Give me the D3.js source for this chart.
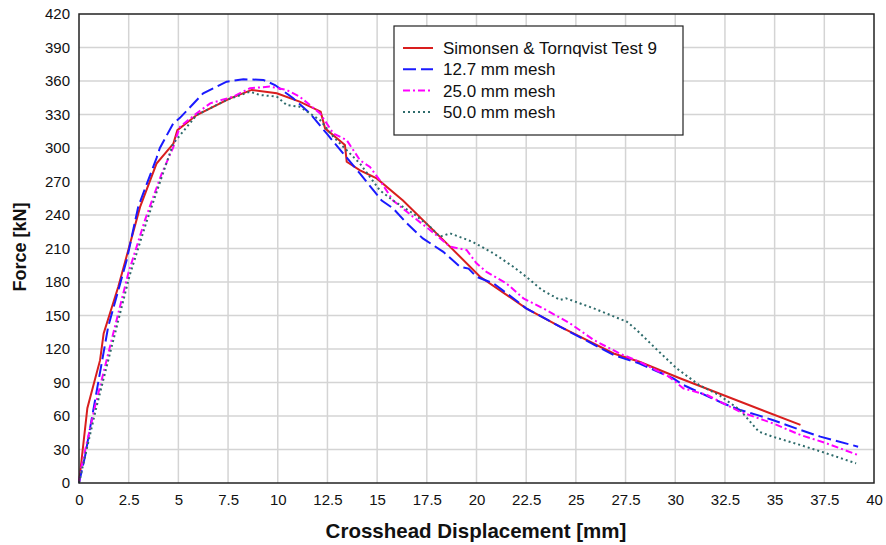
<!DOCTYPE html>
<html><head><meta charset="utf-8">
<script src="https://cdn.jsdelivr.net/npm/d3@7"></script>
<style>body{margin:0;background:#fff}svg{display:block}text{font-family:"Liberation Sans",Arial,sans-serif}</style>
</head><body><svg id="c" width="886" height="545"></svg>
<script>
const xTicks = [0,2.5,5,7.5,10,12.5,15,17.5,20,22.5,25,27.5,30,32.5,35,37.5,40];
const yTicks = [0,30,60,90,120,150,180,210,240,270,300,330,360,390,420];
const seriesNames = ["Simonsen & Tornqvist Test 9","12.7 mm mesh","25.0 mm mesh","50.0 mm mesh"];
const testX = [0,0.42,1.06,1.24,1.98,3.07,3.9,4.75,4.95,5.92,7.6,8.69,9.95,11.1,12.16,12.38,13.38,13.47,14.14,14.98,16.3,18.5,20.18,22.5,24.2,26.9,28.2,30.2,36.3];
const testY = [0,67,110,134,176,247,286,304,316,329.5,344.5,352,349,341.5,332.5,317.6,302.7,287.7,280,272.8,253,214.6,184.7,156.4,140,116,108.6,94,52];
const m127X = [0,0.3,1.47,2.4,2.98,3.9,4.07,4.74,5.08,6.25,7.43,8.27,9.27,9.86,10.78,11.62,12.46,13.3,14.14,15.23,15.8,16.5,17.3,18.33,19.17,19.6,20.0,20.85,21.85,22.5,24.2,26.9,28.2,29.9,30.4,32.4,33.26,34.1,34.9,36.3,37.3,39.2];
const m127Y = [0,23.6,140,199.7,247.4,291,300,322,327,349,359.4,361.5,361,356.4,344.5,331,313,295,277,253,246,232.5,219,207,193.7,192,184.7,178.8,165.4,156.4,140,114.6,107,93.7,87.8,71.4,65.4,61,56.4,47.5,41.5,32.5];
const m250X = [0,0.05,0.8,1.64,2.48,3.32,4.16,4.75,4.9,5.08,5.92,6.6,7.76,8.6,9.6,10.45,11.1,12.13,12.8,13.47,14.14,14.64,15.14,15.8,16.8,17.66,18.67,19.5,20.0,20.5,21.5,22.36,23.5,24.7,25.9,27.2,28.2,29.7,30.4,31.6,33.26,34.9,36.3,37.6,39.2];
const m250Y = [0,8.7,68,128,187.8,235.5,277,301,310,319,331,340,346,353.5,355,352,346,331,313,307,289,283,271,253,238.5,226.6,211.6,208.7,196.7,189,178.8,165.4,155,143,128,116,108.6,95,84.8,78.8,63.8,53.5,43,35.6,25];
const m500X = [0,0.1,0.85,1.7,2.55,3.4,4.2,4.74,5.92,7.43,8.6,9.1,9.95,10.45,11.1,12.13,12.8,13.47,14.14,15.14,15.8,16.8,17.66,18.16,18.67,19.8,20.85,21.85,22.5,23.3,24.2,24.5,25.9,27.56,28.06,29.1,30.07,31.2,32.2,33.26,34.2,34.9,36.3,37.6,39.1];
const m500Y = [0,8,66,126,186,234,276,304,329.5,343,350.4,347.5,346,338.5,337,325,310,298,286,262,253,241.5,229.5,220.6,223.6,216,205.7,193.7,184.7,172.8,163.9,165.4,156.4,144.5,137,119,102.7,87.8,78.8,65.4,46,41.5,34,26.6,17.6];

const colors = ["#d91e1e","#1a1aff","#ff00ff","#2e6b6b"];
const dashes = [null,"13,5","7,3,2,3","2,3"];
const series = [[testX,testY],[m127X,m127Y],[m250X,m250Y],[m500X,m500Y]];

const svg = d3.select("#c");
const L=79,R=874,T=14,B=483;
const x = d3.scaleLinear().domain([0,40]).range([L,R]);
const y = d3.scaleLinear().domain([0,420]).range([B,T]);

// grid
svg.append("g").selectAll("line").data(xTicks.slice(1,-1)).join("line")
 .attr("x1",d=>x(d)).attr("x2",d=>x(d)).attr("y1",T).attr("y2",B)
 .attr("stroke","#d4d4d4").attr("stroke-width",1.5);
svg.append("g").selectAll("line").data(yTicks.slice(1,-1)).join("line")
 .attr("y1",d=>y(d)).attr("y2",d=>y(d)).attr("x1",L).attr("x2",R)
 .attr("stroke","#d4d4d4").attr("stroke-width",1.5);

// axes
const xa = svg.append("g").attr("transform",`translate(0,${B})`)
 .call(d3.axisBottom(x).tickValues(xTicks).tickSize(0).tickPadding(11).tickFormat(d=>String(d)));
const ya = svg.append("g").attr("transform",`translate(${L},0)`)
 .call(d3.axisLeft(y).tickValues(yTicks).tickSize(0).tickPadding(9).tickFormat(d=>String(d)));
[xa,ya].forEach(a=>{a.select(".domain").remove();a.selectAll("text").attr("font-size",15).attr("fill","#111").style("font-family","'Liberation Sans',Arial,sans-serif");});

// lines
const line = d3.line().x(d=>x(d[0])).y(d=>y(d[1]));
series.forEach((s,i)=>{
  const pts = s[0].map((v,j)=>[v,s[1][j]]);
  svg.append("path").datum(pts).attr("d",line).attr("fill","none")
   .attr("stroke",colors[i]).attr("stroke-width",2)
   .attr("stroke-dasharray",dashes[i]);
});

// frame
svg.append("rect").attr("x",L).attr("y",T).attr("width",R-L).attr("height",B-T)
 .attr("fill","none").attr("stroke","#222").attr("stroke-width",1.5);

// legend
const lg = svg.append("g");
lg.append("rect").attr("x",394).attr("y",26).attr("width",289).attr("height",109)
 .attr("fill","#fff").attr("stroke","#222").attr("stroke-width",1.2);
seriesNames.forEach((n,i)=>{
  const yy = 48+i*21.3;
  lg.append("line").attr("x1",403).attr("x2",433).attr("y1",yy).attr("y2",yy)
   .attr("stroke",colors[i]).attr("stroke-width",2).attr("stroke-dasharray",dashes[i]);
  lg.append("text").attr("x",443).attr("y",yy+6).attr("font-size",17).attr("fill","#111").text(n);
});

// titles
svg.append("text").attr("x",476).attr("y",538).attr("text-anchor","middle")
 .attr("font-size",20.5).attr("font-weight","bold").attr("fill","#111").text("Crosshead Displacement [mm]");
svg.append("text").attr("transform",`translate(26,247) rotate(-90)`).attr("text-anchor","middle")
 .attr("font-size",18).attr("font-weight","bold").attr("fill","#111").text("Force [kN]");
</script></body></html>
